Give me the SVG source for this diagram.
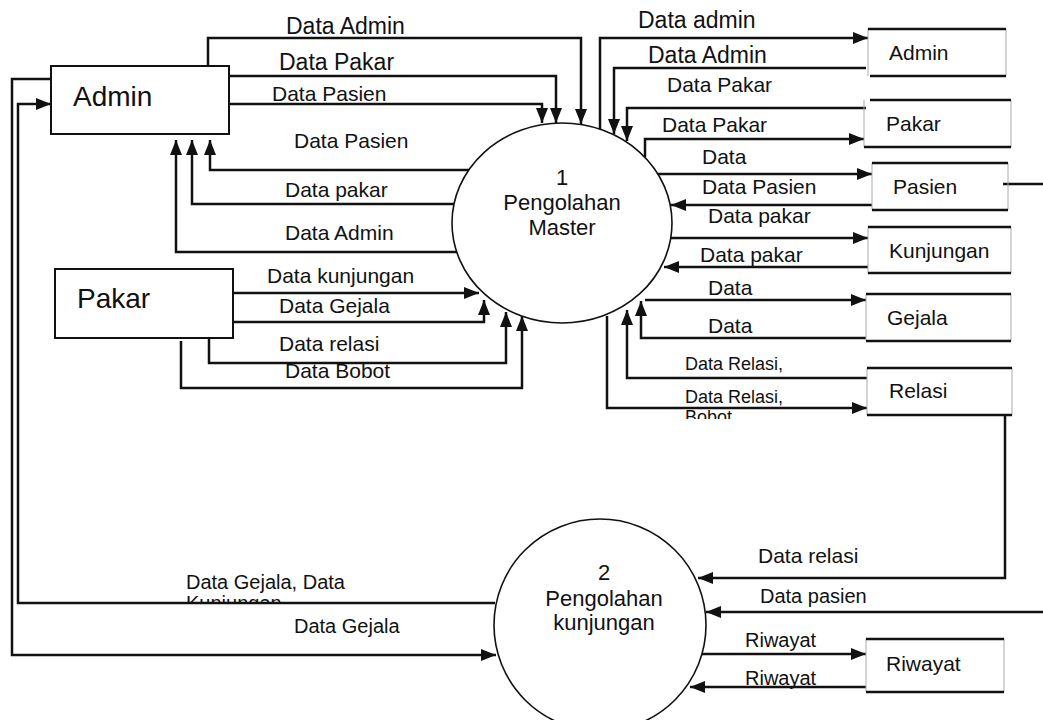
<svg xmlns="http://www.w3.org/2000/svg" width="1043" height="720" viewBox="0 0 1043 720">
<style>
text{font-family:"Liberation Sans",Arial,sans-serif;fill:#111}
.ent{fill:#fff;stroke:#111;stroke-width:2}
.proc{fill:#fff;stroke:#111;stroke-width:1.6}
.st{stroke:#111;stroke-width:2.5}
.sd{stroke:#aaa;stroke-width:1}
.c{fill:none;stroke:#111;stroke-width:2.5;marker-end:url(#ah)}
.n{fill:none;stroke:#111;stroke-width:2.5}
.l23{font-size:23px}.l21{font-size:21px}.l20{font-size:20px}.l18{font-size:18px}
.e28{font-size:28px}.s21{font-size:21px}
.p{font-size:22px;text-anchor:middle}
</style>
<defs>
<marker id="ah" markerUnits="userSpaceOnUse" markerWidth="16" markerHeight="12" refX="15" refY="6" orient="auto">
<path d="M0,0 L15,6 L0,12 z" fill="#111"/>
</marker>
<clipPath id="cb"><rect x="680" y="405" width="80" height="14"/></clipPath>
<clipPath id="ck"><rect x="180" y="591" width="120" height="11"/></clipPath>
</defs>
<rect width="1043" height="720" fill="#fff"/>

<g id="connectors">
<path class="c" d="M208,66 V38 H581 V124"/>
<path class="c" d="M229,76 H556 V123"/>
<path class="c" d="M229,104 H542 V123"/>
<path class="c" d="M469,170 H210 V140"/>
<path class="c" d="M454,204 H192 V140"/>
<path class="c" d="M457,252 H176 V140"/>
<path class="c" d="M233,293 H479"/>
<path class="c" d="M233,322 H484 V300"/>
<path class="c" d="M209,338 V363 H506 V312"/>
<path class="c" d="M181,341 V388 H522 V316"/>
<path class="c" d="M600,129 V38 H868"/>
<path class="c" d="M866,68 H614 V134"/>
<path class="c" d="M866,108 H627 V141"/>
<path class="c" d="M645,157 V139 H864"/>
<path class="c" d="M655,174 H872"/>
<path class="c" d="M872,205 H671"/>
<path class="c" d="M671,238 H868"/>
<path class="c" d="M868,267 H664"/>
<path class="c" d="M645,300 H866"/>
<path class="c" d="M866,338 H641 V301"/>
<path class="c" d="M867,378 H627 V310"/>
<path class="c" d="M607,316 V408 H867"/>
<path class="n" d="M1003,184 H1043"/>
<path class="c" d="M1005,415 V578 H698"/>
<path class="c" d="M1043,612 H706"/>
<path class="c" d="M701,654 H866"/>
<path class="c" d="M866,687 H690"/>
<path class="c" d="M495,603 H18 V104 H51"/>
<path class="c" d="M51,79 H12 V655 H496"/>
</g>

<g id="labels">
<text class="l23" x="286" y="34">Data Admin</text>
<text class="l23" x="279" y="70">Data Pakar</text>
<text class="l21" x="272" y="101">Data Pasien</text>
<text class="l21" x="294" y="148">Data Pasien</text>
<text class="l21" x="285" y="197">Data pakar</text>
<text class="l21" x="285" y="240">Data Admin</text>
<text class="l21" x="267" y="283">Data kunjungan</text>
<text class="l21" x="279" y="313">Data Gejala</text>
<text class="l21" x="279" y="351">Data relasi</text>
<text class="l21" x="285" y="378">Data Bobot</text>
<text class="l23" x="638" y="28">Data admin</text>
<text class="l23" x="648" y="63">Data Admin</text>
<text class="l21" x="667" y="92">Data Pakar</text>
<text class="l21" x="662" y="132">Data Pakar</text>
<text class="l21" x="702" y="164">Data</text>
<text class="l21" x="702" y="194">Data Pasien</text>
<text class="l21" x="708" y="223">Data pakar</text>
<text class="l21" x="700" y="262">Data pakar</text>
<text class="l21" x="708" y="295">Data</text>
<text class="l21" x="708" y="333">Data</text>
<text class="l18" x="685" y="370">Data Relasi,</text>
<text class="l18" x="685" y="403">Data Relasi,</text>
<text class="l18" x="685" y="423" clip-path="url(#cb)">Bobot</text>
<text class="l21" x="758" y="563">Data relasi</text>
<text class="l20" x="760" y="603">Data pasien</text>
<text class="l20" x="745" y="647">Riwayat</text>
<text class="l20" x="745" y="685">Riwayat</text>
<text class="l20" x="186" y="589">Data Gejala, Data</text>
<text class="l20" x="186" y="610" clip-path="url(#ck)">Kunjungan</text>
<text class="l20" x="294" y="633">Data Gejala</text>
</g>

<g id="ent-admin">
<rect class="ent" x="51" y="66" width="178" height="68"/>
<text class="e28" x="73" y="106">Admin</text>
</g>
<g id="ent-pakar">
<rect class="ent" x="55" y="269" width="178" height="69"/>
<text class="e28" x="77" y="308">Pakar</text>
</g>

<g id="proc-1">
<ellipse class="proc" cx="562" cy="223" rx="110" ry="100"/>
<text class="p" x="562" y="185">1</text>
<text class="p" x="562" y="210">Pengolahan</text>
<text class="p" x="562" y="235">Master</text>
</g>
<g id="proc-2">
<ellipse class="proc" cx="600" cy="625" rx="106" ry="106"/>
<text class="p" x="604" y="580">2</text>
<text class="p" x="604" y="606">Pengolahan</text>
<text class="p" x="604" y="630">kunjungan</text>
</g>

<g id="ds-admin">
<line class="sd" x1="868" y1="29" x2="868" y2="76"/><line class="sd" x1="1006" y1="29" x2="1006" y2="76"/>
<line class="st" x1="868" y1="29" x2="1006" y2="29"/><line class="st" x1="870" y1="76" x2="1006" y2="76"/>
<text class="s21" x="889" y="60">Admin</text>
</g>
<g id="ds-pakar">
<line class="sd" x1="864" y1="100" x2="864" y2="147"/><line class="sd" x1="1011" y1="100" x2="1011" y2="147"/>
<line class="st" x1="870" y1="100" x2="1011" y2="100"/><line class="st" x1="864" y1="147" x2="1011" y2="147"/>
<text class="s21" x="886" y="131">Pakar</text>
</g>
<g id="ds-pasien">
<line class="sd" x1="872" y1="163" x2="872" y2="210"/><line class="sd" x1="1008" y1="163" x2="1008" y2="210"/>
<line class="st" x1="872" y1="163" x2="1008" y2="163"/><line class="st" x1="872" y1="210" x2="1008" y2="210"/>
<text class="s21" x="893" y="194">Pasien</text>
</g>
<g id="ds-kunjungan">
<line class="sd" x1="868" y1="227" x2="868" y2="273"/><line class="sd" x1="1011" y1="227" x2="1011" y2="273"/>
<line class="st" x1="868" y1="227" x2="1011" y2="227"/><line class="st" x1="868" y1="273" x2="1011" y2="273"/>
<text class="s21" x="889" y="258">Kunjungan</text>
</g>
<g id="ds-gejala">
<line class="sd" x1="866" y1="294" x2="866" y2="341"/><line class="sd" x1="1011" y1="294" x2="1011" y2="341"/>
<line class="st" x1="866" y1="294" x2="1011" y2="294"/><line class="st" x1="866" y1="341" x2="1011" y2="341"/>
<text class="s21" x="887" y="325">Gejala</text>
</g>
<g id="ds-relasi">
<line class="sd" x1="867" y1="368" x2="867" y2="415"/><line class="sd" x1="1012" y1="368" x2="1012" y2="415"/>
<line class="st" x1="867" y1="368" x2="1012" y2="368"/><line class="st" x1="867" y1="415" x2="1012" y2="415"/>
<text class="s21" x="889" y="398">Relasi</text>
</g>
<g id="ds-riwayat">
<line class="sd" x1="866" y1="639" x2="866" y2="692"/><line class="sd" x1="1004" y1="639" x2="1004" y2="692"/>
<line class="st" x1="866" y1="639" x2="1004" y2="639"/><line class="st" x1="866" y1="692" x2="1004" y2="692"/>
<text class="s21" x="886" y="671">Riwayat</text>
</g>
</svg>
